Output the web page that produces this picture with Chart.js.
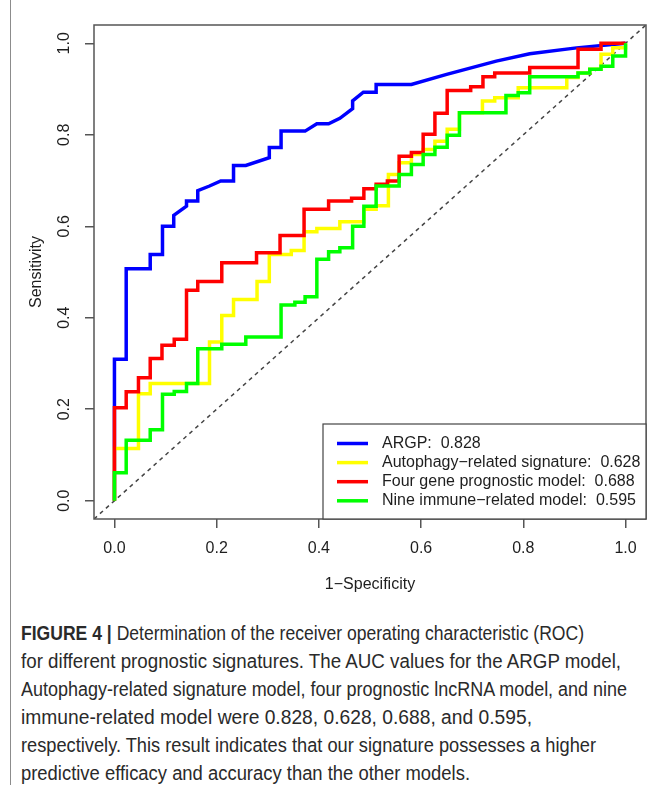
<!DOCTYPE html>
<html>
<head>
<meta charset="utf-8">
<script src="https://cdn.jsdelivr.net/npm/chart.js@4.4.0/dist/chart.umd.min.js"></script>
<style>
body { margin: 0; background: #fff; width: 652px; height: 785px; position: relative; overflow: hidden; font-family: 'Liberation Sans', Arial, sans-serif; }
#frame { position: absolute; left: 10px; top: 0; width: 1px; height: 785px; background: #8c8c8c; }
#wrap { position: absolute; left: 0; top: 0; width: 652px; height: 600px; }
#caption { position: absolute; left: 21px; top: 619px; font-size: 20px; line-height: 28px; color: #2a2a2a; }
#caption div { white-space: nowrap; width: max-content; transform-origin: 0 50%; }
</style>
</head>
<body>
<div id="frame"></div>
<div id="wrap"><canvas id="roc"></canvas></div>
<div id="caption">
  <div data-w="563"><b>FIGURE 4 |</b> Determination of the receiver operating characteristic (ROC)</div>
  <div data-w="600">for different prognostic signatures. The AUC values for the ARGP model,</div>
  <div data-w="606">Autophagy-related signature model, four prognostic lncRNA model, and nine</div>
  <div data-w="511">immune-related model were 0.828, 0.628, 0.688, and 0.595,</div>
  <div data-w="575">respectively. This result indicates that our signature possesses a higher</div>
  <div data-w="449">predictive efficacy and accuracy than the other models.</div>
</div>
<script>
// ROC curves (x = 1-specificity, y = sensitivity)
const argpX = [0, 0, 0.023, 0.023, 0.070, 0.070, 0.094, 0.094, 0.116, 0.116, 0.141, 0.141, 0.163, 0.163, 0.186, 0.208, 0.233, 0.233, 0.257, 0.303, 0.303, 0.326, 0.326, 0.373, 0.396, 0.419, 0.441, 0.466, 0.466, 0.487, 0.512, 0.512, 0.581, 0.650, 0.747, 0.8125, 0.904, 1];
const argpY = [0, 0.309, 0.309, 0.507, 0.507, 0.538, 0.538, 0.600, 0.600, 0.624, 0.644, 0.655, 0.655, 0.678, 0.688, 0.699, 0.699, 0.733, 0.733, 0.750, 0.772, 0.772, 0.808, 0.808, 0.824, 0.824, 0.836, 0.857, 0.874, 0.893, 0.893, 0.910, 0.910, 0.932, 0.961, 0.977, 0.990, 1];

const autoX = [0, 0, 0.047, 0.047, 0.070, 0.070, 0.186, 0.186, 0.210, 0.210, 0.233, 0.233, 0.279, 0.279, 0.303, 0.303, 0.346, 0.346, 0.371, 0.371, 0.396, 0.396, 0.441, 0.441, 0.488, 0.488, 0.512, 0.512, 0.536, 0.536, 0.557, 0.557, 0.581, 0.581, 0.604, 0.604, 0.627, 0.627, 0.651, 0.651, 0.675, 0.675, 0.720, 0.720, 0.744, 0.744, 0.790, 0.790, 0.885, 0.885, 0.907, 0.907, 0.930, 0.930, 0.952, 0.952, 0.975, 0.975, 1, 1];
const autoY = [0, 0.114, 0.114, 0.234, 0.234, 0.256, 0.256, 0.347, 0.347, 0.405, 0.405, 0.440, 0.440, 0.479, 0.479, 0.538, 0.538, 0.547, 0.547, 0.588, 0.588, 0.595, 0.595, 0.610, 0.610, 0.637, 0.637, 0.645, 0.645, 0.713, 0.713, 0.739, 0.739, 0.757, 0.757, 0.768, 0.768, 0.786, 0.786, 0.812, 0.812, 0.848, 0.848, 0.874, 0.874, 0.881, 0.881, 0.903, 0.903, 0.925, 0.925, 0.935, 0.935, 0.943, 0.943, 0.976, 0.976, 0.990, 0.990, 1];

const fourX = [0, 0, 0.023, 0.023, 0.047, 0.047, 0.070, 0.070, 0.093, 0.093, 0.117, 0.117, 0.141, 0.141, 0.163, 0.163, 0.210, 0.210, 0.278, 0.278, 0.324, 0.324, 0.371, 0.371, 0.419, 0.419, 0.464, 0.464, 0.488, 0.488, 0.512, 0.512, 0.534, 0.534, 0.557, 0.557, 0.581, 0.581, 0.604, 0.604, 0.627, 0.627, 0.651, 0.651, 0.697, 0.697, 0.721, 0.721, 0.744, 0.744, 0.8125, 0.8125, 0.907, 0.907, 0.952, 0.952, 1];
const fourY = [0, 0.203, 0.203, 0.238, 0.238, 0.269, 0.269, 0.311, 0.311, 0.340, 0.340, 0.353, 0.353, 0.460, 0.460, 0.479, 0.479, 0.520, 0.520, 0.542, 0.542, 0.580, 0.580, 0.637, 0.637, 0.655, 0.655, 0.661, 0.661, 0.682, 0.682, 0.692, 0.692, 0.699, 0.699, 0.753, 0.753, 0.761, 0.761, 0.801, 0.801, 0.847, 0.847, 0.897, 0.897, 0.905, 0.905, 0.927, 0.927, 0.935, 0.935, 0.947, 0.947, 0.987, 0.987, 1, 1];

const nineX = [0, 0, 0.023, 0.023, 0.070, 0.070, 0.094, 0.094, 0.117, 0.117, 0.141, 0.141, 0.163, 0.163, 0.210, 0.210, 0.257, 0.257, 0.326, 0.326, 0.353, 0.353, 0.373, 0.373, 0.396, 0.396, 0.419, 0.419, 0.441, 0.441, 0.466, 0.466, 0.488, 0.488, 0.512, 0.512, 0.557, 0.557, 0.581, 0.581, 0.604, 0.604, 0.627, 0.627, 0.651, 0.651, 0.675, 0.675, 0.766, 0.766, 0.790, 0.790, 0.8125, 0.8125, 0.907, 0.907, 0.930, 0.930, 0.952, 0.952, 0.975, 0.975, 1, 1];
const nineY = [0, 0.061, 0.061, 0.132, 0.132, 0.155, 0.155, 0.233, 0.233, 0.239, 0.239, 0.256, 0.256, 0.332, 0.332, 0.342, 0.342, 0.358, 0.358, 0.428, 0.428, 0.434, 0.434, 0.446, 0.446, 0.528, 0.528, 0.544, 0.544, 0.553, 0.553, 0.600, 0.600, 0.644, 0.644, 0.688, 0.688, 0.713, 0.713, 0.735, 0.735, 0.757, 0.757, 0.773, 0.773, 0.799, 0.799, 0.848, 0.848, 0.886, 0.886, 0.892, 0.892, 0.927, 0.927, 0.935, 0.935, 0.943, 0.943, 0.950, 0.950, 0.972, 0.972, 1];

const seriesNames = ['ARGP', 'Autophagy\u2212related signature', 'Four gene prognostic model', 'Nine immune\u2212related model'];
const aucValues = ['0.828', '0.628', '0.688', '0.595'];
const seriesColors = ['#0000ff', '#ffff00', '#ff0000', '#00ff00'];

const xTicks = [0, 0.2, 0.4, 0.6, 0.8, 1.0];
const xTickLabels = ['0.0', '0.2', '0.4', '0.6', '0.8', '1.0'];
const yTicks = [0, 0.2, 0.4, 0.6, 0.8, 1.0];
const yTickLabels = ['0.0', '0.2', '0.4', '0.6', '0.8', '1.0'];
const diagX = [-0.04, 1.04];
const diagY = [-0.04, 1.04];

const FONT = '"Liberation Sans", Arial, sans-serif';
const INK = '#1e1e1e';

function pts(xs, ys) {
    return xs.map((x, i) => ({x: x, y: ys[i]}));
}

const curves = [[argpX, argpY], [autoX, autoY], [fourX, fourY], [nineX, nineY]];

// green on top, blue at the bottom, like the R plot
const datasets = curves.map((c, i) => ({
    label: seriesNames[i],
    data: pts(c[0], c[1]),
    showLine: true,
    borderColor: seriesColors[i],
    borderWidth: 3.5,
    pointRadius: 0,
    borderJoinStyle: 'miter',
    order: 4 - i
}));
datasets.push({
    label: 'diag',
    data: pts(diagX, diagY),
    showLine: true,
    borderColor: '#444',
    borderWidth: 1.5,
    borderDash: [4, 4],
    pointRadius: 0,
    order: 10
});

const boxPlugin = {
    id: 'rbox',
    afterDraw(chart) {
        const {ctx, chartArea: a, scales: {y}} = chart;
        ctx.save();
        // plot frame
        ctx.strokeStyle = '#555';
        ctx.lineWidth = 1.5;
        ctx.strokeRect(a.left, a.top, a.right - a.left, a.bottom - a.top);

        // y tick labels, parallel to the axis
        ctx.font = '16px ' + FONT;
        ctx.fillStyle = INK;
        ctx.textAlign = 'center';
        ctx.textBaseline = 'middle';
        yTicks.forEach((v, i) => {
            ctx.save();
            ctx.translate(65, y.getPixelForValue(v));
            ctx.rotate(-Math.PI / 2);
            ctx.fillText(yTickLabels[i], 0, 0);
            ctx.restore();
        });

        // legend box, bottom right inside the plot
        const lx = 323, ly = 424;
        ctx.fillStyle = '#fff';
        ctx.fillRect(lx, ly, a.right - lx, a.bottom - ly);
        ctx.strokeStyle = '#444';
        ctx.lineWidth = 1.2;
        ctx.strokeRect(lx, ly, a.right - lx, a.bottom - ly);
        ctx.textAlign = 'left';
        seriesNames.forEach((name, i) => {
            const ry = 443.5 + i * 19.1;
            ctx.strokeStyle = seriesColors[i];
            ctx.lineWidth = 3.5;
            ctx.beginPath();
            ctx.moveTo(337, ry);
            ctx.lineTo(368, ry);
            ctx.stroke();
            ctx.fillStyle = INK;
            ctx.fillText(name + ':  ' + aucValues[i], 382, ry);
        });
        ctx.restore();
    }
};

new Chart(document.getElementById('roc'), {
    type: 'scatter',
    data: {datasets: datasets},
    options: {
        responsive: true,
        maintainAspectRatio: false,
        animation: false,
        layout: {padding: {top: 25, right: 6, left: 0, bottom: 0}},
        plugins: {legend: {display: false}, tooltip: {enabled: false}},
        scales: {
            x: {
                type: 'linear',
                min: -0.04,
                max: 1.04,
                afterBuildTicks: s => { s.ticks = xTicks.map(v => ({value: v})); },
                afterFit: s => { s.height = 81; },
                border: {display: false},
                grid: {drawOnChartArea: false, drawTicks: true, tickLength: 9, color: '#555', lineWidth: 1.5},
                ticks: {
                    padding: 11,
                    color: INK,
                    font: {family: FONT, size: 16},
                    maxRotation: 0,
                    callback: v => xTickLabels[xTicks.indexOf(v)]
                },
                title: {display: true, text: '1\u2212Specificity', color: INK, font: {family: FONT, size: 16}, padding: {top: 0, bottom: 6}}
            },
            y: {
                type: 'linear',
                min: -0.04,
                max: 1.04,
                afterBuildTicks: s => { s.ticks = yTicks.map(v => ({value: v})); },
                afterFit: s => { s.width = 94; },
                border: {display: false},
                grid: {drawOnChartArea: false, drawTicks: true, tickLength: 9, color: '#555', lineWidth: 1.5},
                ticks: {display: false},
                title: {display: true, text: 'Sensitivity', color: INK, font: {family: FONT, size: 16}, padding: {top: 27, bottom: 0}}
            }
        }
    },
    plugins: [boxPlugin]
});

// squeeze caption lines to the narrow journal font widths
document.querySelectorAll('#caption div').forEach(el => {
    const w = el.getBoundingClientRect().width;
    const target = +el.dataset.w;
    el.style.transform = 'scaleX(' + (target / w).toFixed(4) + ')';
});
</script>
</body>
</html>
